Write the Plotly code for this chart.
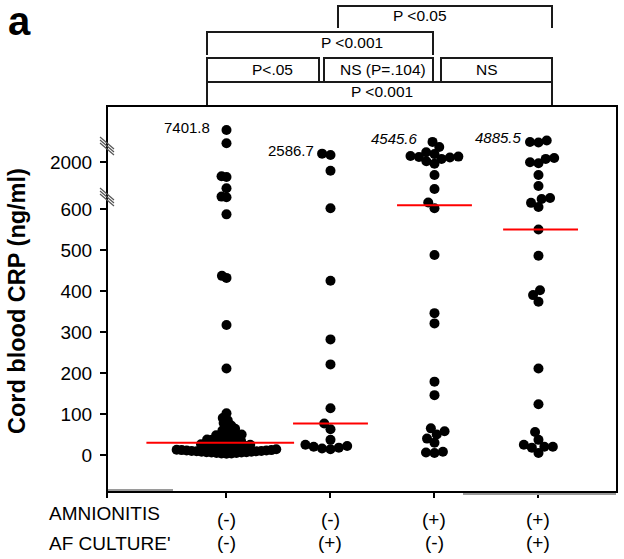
import numpy as np
import plotly.graph_objects as go

# ---------------- data ----------------
amnionitis_labels = ["(-)", "(-)", "(+)", "(+)"]
af_culture_labels = ["(-)", "(+)", "(-)", "(+)"]
row_titles = ["AMNIONITIS", "AF CULTURE'"]

crp_neg_neg = [3, 4, 4, 5, 5, 6, 6, 7, 7, 8, 8, 9, 9, 10, 10, 11, 11, 12, 12, 13, 14, 15,
               16, 17, 18, 19, 20, 21, 22, 24, 25, 26, 28, 29,
               31, 32, 34, 35, 37, 38, 40, 42, 44, 46, 48, 50, 53, 56, 60, 64, 68, 72, 78, 85, 90,
               102, 211, 317, 432, 437, 587, 676, 690, 891, 1260, 1290, 4206, 7401.8]
crp_neg_pos = [14, 16, 18, 20, 22, 25, 37, 63, 77, 114, 221, 282, 425, 602, 1530, 2480, 2586.7]
crp_pos_neg = [5, 6, 8, 30, 40, 50, 58, 65, 146, 179, 321, 346, 488, 602, 616, 873, 1340,
               1900, 2050, 2200, 2300, 2330, 2360, 2400, 2550, 2700, 3300, 4545.6]
crp_pos_pos = [5, 18, 20, 20, 25, 37, 56, 124, 211, 374, 390, 402, 486, 550,
               605, 615, 640, 660, 957, 1340, 1920, 1980, 2200, 2260, 4400, 4500, 4885.5]
groups = [crp_neg_neg, crp_neg_pos, crp_pos_neg, crp_pos_pos]
max_label_italic = [False, False, True, True]

y_ticks_low = [0, 100, 200, 300, 400, 500, 600]
y_ticks_mid = [2000]
y_title = "Cord blood CRP (ng/ml)"
panel_label = "a"

cmp_top = "P <0.05"
cmp_upper = "P <0.001"
cmp_row = ["P<.05", "NS (P=.104)", "NS"]
cmp_bottom = "P <0.001"

# ---------------- geometry / style ----------------
W, H = 624, 559
L, R, T, B = 107, 617, 106, 492
PW, PH = R - L, B - T
LOW_TOP_PX, MID_TOP_PX = 200, 148
LOW_RANGE = [-90.2, 622.0]
MID_RANGE = [622.0, 3076.0]      # log-scaled segment
UP_RANGE = [3076.0, 13172.0]
X_RANGE = [-0.149, 4.755]
d1 = (B - LOW_TOP_PX) / PH
d2 = (B - MID_TOP_PX) / PH
PX_PER_X = PW / (X_RANGE[1] - X_RANGE[0])

FONT = "Liberation Sans, Arial, sans-serif"
MARKER_D = 10
SWARM_D = [5.0, 8.5, 8.5, 8.5]
MEDIAN_HALF = [0.71, 0.36, 0.36, 0.36]
MEDIAN_SHIFT = [-0.06, 0.0, 0.0, 0.02]


def xp(px):
    return (px - L) / PW


def yp(py):
    return (B - py) / PH


def value_to_py(v):
    if v <= LOW_RANGE[1]:
        return B - (v - LOW_RANGE[0]) / (LOW_RANGE[1] - LOW_RANGE[0]) * (B - LOW_TOP_PX)
    if v <= MID_RANGE[1]:
        a, b = np.log10(MID_RANGE)
        return LOW_TOP_PX - (np.log10(v) - a) / (b - a) * (LOW_TOP_PX - MID_TOP_PX)
    return MID_TOP_PX - (v - UP_RANGE[0]) / (UP_RANGE[1] - UP_RANGE[0]) * (MID_TOP_PX - T)


def axis_of(v):
    if v <= LOW_RANGE[1]:
        return "y"
    if v <= MID_RANGE[1]:
        return "y2"
    return "y3"


def swarm(pys, d):
    n = len(pys)
    order = np.argsort(pys)[::-1]
    placed = []
    offs = [0.0] * n
    for i in order:
        y = pys[i]
        cands = [0.0]
        for xj, yj in placed:
            dy = abs(y - yj)
            if dy < d:
                dx = np.sqrt(d * d - dy * dy)
                cands += [xj + dx, xj - dx]
        cands.sort(key=lambda c: (abs(c), c))
        for c in cands:
            if all((c - xj) ** 2 + (y - yj) ** 2 >= d * d - 1e-6 for xj, yj in placed):
                offs[i] = c
                placed.append((c, y))
                break
    return offs


fig = go.Figure()

for gi, vals in enumerate(groups):
    center = gi + 1
    pys = [value_to_py(v) for v in vals]
    offs = swarm(pys, SWARM_D[gi])
    for ax in ["y", "y2", "y3"]:
        xs = [center + o / PX_PER_X for v, o in zip(vals, offs) if axis_of(v) == ax]
        ys = [v for v in vals if axis_of(v) == ax]
        if xs:
            fig.add_trace(go.Scatter(x=xs, y=ys, mode="markers", yaxis=ax, xaxis="x",
                                     cliponaxis=False,
                                     marker=dict(size=MARKER_D, color="black", line=dict(width=0)),
                                     hoverinfo="y"))
    med = float(np.median(vals))
    c = center + MEDIAN_SHIFT[gi]
    fig.add_trace(go.Scatter(x=[c - MEDIAN_HALF[gi], c + MEDIAN_HALF[gi]], y=[med, med],
                             mode="lines", yaxis=axis_of(med), xaxis="x", cliponaxis=False,
                             line=dict(color="#ff0000", width=2), hoverinfo="skip"))

annotations = []
for gi, vals in enumerate(groups):
    vmax = max(vals)
    ax = axis_of(vmax)
    yval = np.log10(vmax) if ax == "y2" else vmax
    txt = f"{vmax:.1f}"
    if max_label_italic[gi]:
        txt = f"<i>{txt}</i>"
    annotations.append(dict(x=gi + 1 - 0.14, y=yval, xref="x", yref=ax, text=txt,
                            showarrow=False, xanchor="right", yanchor="middle", yshift=3,
                            font=dict(family=FONT, size=15, color="black")))

for gi in range(4):
    annotations.append(dict(x=gi + 1, y=yp(519), xref="x", yref="paper", text=amnionitis_labels[gi],
                            showarrow=False, xanchor="center", yanchor="middle",
                            font=dict(family=FONT, size=19, color="black")))
    annotations.append(dict(x=gi + 1, y=yp(542), xref="x", yref="paper", text=af_culture_labels[gi],
                            showarrow=False, xanchor="center", yanchor="middle",
                            font=dict(family=FONT, size=19, color="black")))
annotations.append(dict(x=xp(47), y=yp(513), xref="paper", yref="paper", text=row_titles[0],
                        showarrow=False, xanchor="left", yanchor="middle",
                        font=dict(family=FONT, size=19, color="black")))
annotations.append(dict(x=xp(47), y=yp(543), xref="paper", yref="paper", text=row_titles[1],
                        showarrow=False, xanchor="left", yanchor="middle",
                        font=dict(family=FONT, size=19, color="black")))

annotations.append(dict(x=xp(17), y=yp(301), xref="paper", yref="paper", text=f"<b>{y_title}</b>",
                        textangle=-90, showarrow=False, xanchor="center", yanchor="middle",
                        font=dict(family=FONT, size=23.5, color="black")))
annotations.append(dict(x=xp(19), y=yp(21), xref="paper", yref="paper", text=f"<b>{panel_label}</b>",
                        showarrow=False, xanchor="center", yanchor="middle", borderpad=0,
                        font=dict(family=FONT, size=40, color="black")))

cmp_font = dict(family=FONT, size=15.5, color="black")
for txt, cx, cy in [(cmp_top, 420, 15), (cmp_upper, 352, 42), (cmp_row[0], 272, 69),
                    (cmp_row[1], 383, 69), (cmp_row[2], 487, 69), (cmp_bottom, 382, 91)]:
    annotations.append(dict(x=xp(cx), y=yp(cy), xref="paper", yref="paper", text=txt,
                            showarrow=False, xanchor="center", yanchor="middle", font=cmp_font))

shapes = []
LC = "#1a1a1a"


def path(points, color=LC, width=2):
    p = "M " + " L ".join(f"{xp(a):.5f},{yp(b):.5f}" for a, b in points)
    shapes.append(dict(type="path", path=p, xref="paper", yref="paper",
                       line=dict(color=color, width=width)))


path([(338, 28), (338, 6), (552, 6), (552, 28)])
path([(207, 55), (207, 32), (433, 32), (433, 55)])
path([(207, 82), (207, 58), (319, 58), (319, 82)])
path([(324, 82), (324, 58), (433, 58), (433, 82)])
path([(441, 82), (441, 58), (552, 58), (552, 82)])
path([(207, 106), (207, 82), (552, 82), (552, 106)])

path([(107, 490.5), (173, 490.5)], color="#9a9a9a", width=3)
path([(463, 494), (616, 494)], color="#9a9a9a", width=2)

shapes.append(dict(type="rect", xref="paper", yref="paper", x0=0, x1=1, y0=0, y1=1,
                   line=dict(color="black", width=2)))

for cy in [146, 197]:
    for k in (-3, 0, 3):
        path([(100, cy + k - 6), (114, cy + k + 6)], color="#555555", width=1.2)

tickfont = dict(family=FONT, size=19, color="black")
fig.update_layout(
    width=W, height=H,
    margin=dict(l=L, r=W - R, t=T, b=H - B, pad=0),
    paper_bgcolor="white", plot_bgcolor="white", showlegend=False,
    xaxis=dict(domain=[0, 1], range=X_RANGE, anchor="y", tickvals=[X_RANGE[0], 1, 2, 3, 4],
               ticks="outside", ticklen=5, tickwidth=2, tickcolor="black",
               showticklabels=False, showgrid=False, zeroline=False, showline=False),
    yaxis=dict(domain=[0, d1], range=LOW_RANGE, anchor="x", tickvals=y_ticks_low,
               ticktext=[str(t) for t in y_ticks_low],
               ticks="outside", ticklen=6, tickwidth=2, tickcolor="black", tickfont=tickfont,
               ticklabelstandoff=4,
               showgrid=False, zeroline=False, showline=False),
    yaxis2=dict(domain=[d1, d2], type="log", range=[float(np.log10(MID_RANGE[0])), float(np.log10(MID_RANGE[1]))],
                anchor="x", tickvals=y_ticks_mid, ticktext=[str(t) for t in y_ticks_mid],
                ticks="outside", ticklen=6, tickwidth=2, tickcolor="black", tickfont=tickfont,
                ticklabelstandoff=4,
                showgrid=False, zeroline=False, showline=False),
    yaxis3=dict(domain=[d2, 1], range=UP_RANGE, anchor="x", showticklabels=False, ticks="",
                showgrid=False, zeroline=False, showline=False),
    annotations=annotations,
    shapes=shapes,
)

fig.write_html("out.html", config={"displayModeBar": False},
               post_script="document.body.style.margin='0';document.body.style.overflow='hidden';")
